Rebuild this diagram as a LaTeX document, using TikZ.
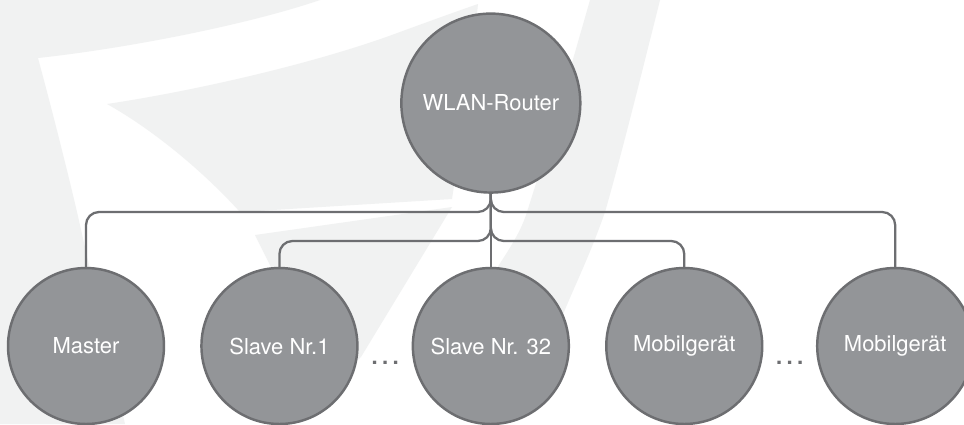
\documentclass[tikz,border=0pt]{standalone}
\usepackage{fontspec}
\setmainfont{TeX Gyre Heros}
\usetikzlibrary{positioning,calc}
\definecolor{bggray}{HTML}{F1F2F2}
\definecolor{nodegray}{HTML}{939598}
\definecolor{linegray}{HTML}{6D6E71}

\begin{document}
\begin{tikzpicture}[
    x=0.02cm, y=-0.02cm,
    node distance=0.7cm and 0.7cm,
    font=\fontsize{12.5}{15}\selectfont,
    text centered,
    backdrop/.style={fill=bggray},
    device/.style={
      circle,
      fill=nodegray,
      draw=linegray,
      line width=1.4pt,
      text=white,
      minimum size=3.12cm,
      inner sep=0
    },
    gap/.style={
      text=linegray,
      font=\fontsize{18}{20}\selectfont,
      inner sep=0
    },
    link/.style={
      draw=linegray,
      line width=1.3pt,
      rounded corners=0.26cm
    }
  ]

  \useasboundingbox (0,0) rectangle (964,424);
  \clip (0,0) rectangle (964,424);
  \fill [white] (0,0) rectangle (964,424);

  \fill [backdrop] (0,0) -- (320,0) .. controls (250,24) and (130,48) .. (38,58)
    .. controls (52,110) and (66,165) .. (77,212) -- (125,424) -- (0,424) -- cycle;
  \fill [backdrop] (107,104) .. controls (200,90) and (320,62) .. (400,32)
    .. controls (430,21) and (455,12) .. (478,4) -- (470,80) -- (452,199) -- (240,212)
    .. controls (200,168) and (150,128) .. (107,104) -- cycle;
  \fill [backdrop] (255,235) -- (452,207) -- (361,357) -- (330,385) -- cycle;
  \fill [backdrop] (590,0) -- (660,0) .. controls (640,80) and (620,160) .. (605,212)
    .. controls (590,255) and (575,285) .. (564,312) -- (536,380) -- (434,380)
    -- (490,279) .. controls (505,255) and (520,235) .. (527,212)
    .. controls (550,140) and (570,70) .. (590,0) -- cycle;

  \node [device] (M) at (86,346) {Master};
  \node [device] (S1) [right=of M] {Slave Nr.1};
  \node [device] (S2) [right=1.06cm of S1] {Slave Nr. 32};
  \node [device] (G1) [right=of S2] {Mobilgerät};
  \node [device] (G2) [right=1.05cm of G1] {Mobilgerät};
  \node [device] (R) [above=1.46cm of S2, minimum size=3.58cm] {WLAN-Router};

  \node [gap] (d1) at ($(S1)!.5!(S2)$) [yshift=-0.34cm] {…};
  \node [gap] (d2) at ($(G1)!.5!(G2)$) [yshift=-0.34cm] {…};

  \coordinate (b1) at (0,212);
  \coordinate (b2) at (0,241);

  \draw [link] (R) -- (S2);
  \draw [link] (R.south) -- (R.south |- b1) -| (M.north);
  \draw [link] (R.south) -- (R.south |- b1) -| (G2.north);
  \draw [link] (R.south) -- (R.south |- b2) -| (S1.north);
  \draw [link] (R.south) -- (R.south |- b2) -| (G1.north);

\end{tikzpicture}
\end{document}
